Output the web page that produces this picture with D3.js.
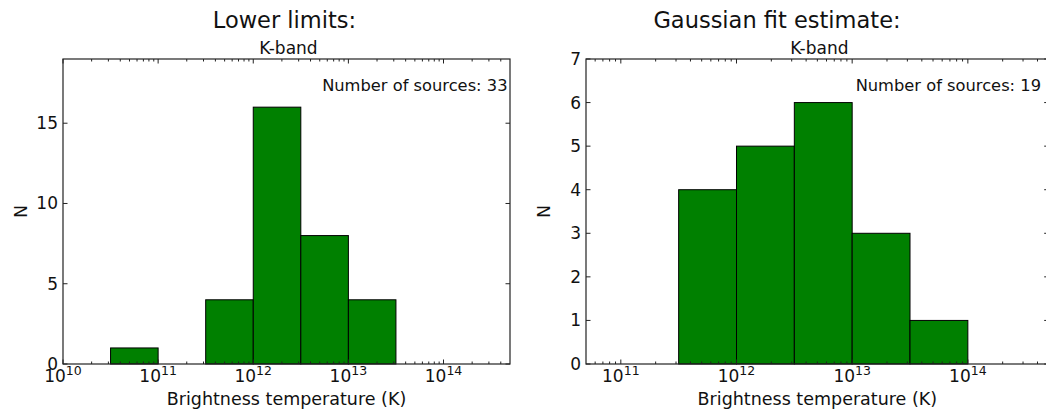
<!DOCTYPE html>
<html>
<head>
<meta charset="utf-8">
<script src="https://cdnjs.cloudflare.com/ajax/libs/d3/7.8.5/d3.min.js"></script>
<style>
  body { margin: 0; background: #fff; }
  svg { display: block; }
  text { font-family: "DejaVu Sans", sans-serif; fill: #111; }
</style>
</head>
<body>
<div id="chart"></div>
<script>
// histogram bin edges (K) and counts
const lowerEdges = [3.162e10, 1e11, 3.162e11, 1e12, 3.162e12, 1e13, 3.162e13];
const lowerCounts = [1, 0, 4, 16, 8, 4];

const gaussEdges = [3.162e11, 1e12, 3.162e12, 1e13, 3.162e13, 1e14];
const gaussCounts = [4, 5, 6, 3, 1];

// tick values
const lowerXTicks = [1e10, 1e11, 1e12, 1e13, 1e14];
const lowerYTicks = [0, 5, 10, 15];
const gaussXTicks = [1e11, 1e12, 1e13, 1e14];
const gaussYTicks = [0, 1, 2, 3, 4, 5, 6, 7];

const width = 1046;
const height = 412;

const svg = d3.select("#chart")
  .append("svg")
  .attr("width", width)
  .attr("height", height);

// Function to draw one histogram panel
function drawPanel(p) {
  const x = d3.scaleLog().domain(p.xDomain).range([p.x0, p.x1]);
  const y = d3.scaleLinear().domain([0, p.yMax]).range([p.y1, p.y0]);

  const g = svg.append("g");

  // bars
  const bins = p.counts.map((c, i) => ({ lo: p.edges[i], hi: p.edges[i + 1], n: c }))
    .filter(d => d.n > 0);

  g.selectAll("rect.bar")
    .data(bins)
    .enter()
    .append("rect")
    .attr("class", "bar")
    .attr("x", d => x(d.lo))
    .attr("y", d => y(d.n))
    .attr("width", d => x(d.hi) - x(d.lo))
    .attr("height", d => y(0) - y(d.n))
    .attr("fill", "#008000")
    .attr("stroke", "#000")
    .attr("stroke-width", 1);

  // minor ticks on the log axis (2..9 x 10^k)
  const minor = [];
  const k0 = Math.floor(Math.log10(p.xDomain[0]));
  const k1 = Math.ceil(Math.log10(p.xDomain[1]));
  for (let k = k0; k <= k1; k++) {
    for (let m = 2; m <= 9; m++) {
      const v = m * Math.pow(10, k);
      if (v > p.xDomain[0] && v < p.xDomain[1]) minor.push(v);
    }
  }

  const tickColor = "#222";

  // x ticks, bottom and top, pointing inward
  [[p.y1, -1], [p.y0, 1]].forEach(([yy, dir]) => {
    g.selectAll(null).data(minor).enter().append("line")
      .attr("x1", d => x(d)).attr("x2", d => x(d))
      .attr("y1", yy).attr("y2", yy + dir * 2.5)
      .attr("stroke", tickColor).attr("stroke-width", 1);
    g.selectAll(null).data(p.xTicks).enter().append("line")
      .attr("x1", d => x(d)).attr("x2", d => x(d))
      .attr("y1", yy).attr("y2", yy + dir * 4.5)
      .attr("stroke", tickColor).attr("stroke-width", 1);
  });

  // y ticks, left and right, pointing inward
  [[p.x0, 1], [p.x1, -1]].forEach(([xx, dir]) => {
    g.selectAll(null).data(p.yTicks).enter().append("line")
      .attr("x1", xx).attr("x2", xx + dir * 4.5)
      .attr("y1", d => y(d)).attr("y2", d => y(d))
      .attr("stroke", tickColor).attr("stroke-width", 1);
  });

  // frame
  g.append("rect")
    .attr("x", p.x0).attr("y", p.y0)
    .attr("width", p.x1 - p.x0).attr("height", p.y1 - p.y0)
    .attr("fill", "none")
    .attr("stroke", "#222")
    .attr("stroke-width", 1.2);

  // y tick labels
  g.selectAll(null).data(p.yTicks).enter().append("text")
    .attr("x", p.x0 - 5)
    .attr("y", d => y(d) + 6)
    .attr("text-anchor", "end")
    .attr("font-size", 17)
    .text(d => d);

  // x tick labels as 10^k
  const xl = g.selectAll(null).data(p.xTicks).enter().append("text")
    .attr("x", d => x(d))
    .attr("y", p.y1 + 18)
    .attr("text-anchor", "middle")
    .attr("font-size", 17);
  xl.append("tspan").text("10");
  xl.append("tspan")
    .attr("dy", -7)
    .attr("font-size", 12.5)
    .text(d => Math.round(Math.log10(d)));

  // axis labels
  g.append("text")
    .attr("x", (p.x0 + p.x1) / 2)
    .attr("y", 405)
    .attr("text-anchor", "middle")
    .attr("font-size", 17.5)
    .text("Brightness temperature (K)");

  g.append("text")
    .attr("transform", `translate(${p.x0 - 36},${(p.y0 + p.y1) / 2}) rotate(-90)`)
    .attr("text-anchor", "middle")
    .attr("font-size", 17.5)
    .text("N");

  // subtitle and title
  g.append("text")
    .attr("x", (p.x0 + p.x1) / 2 + 2)
    .attr("y", 54)
    .attr("text-anchor", "middle")
    .attr("font-size", 17)
    .text("K-band");

  g.append("text")
    .attr("x", p.titleX)
    .attr("y", 28)
    .attr("text-anchor", "middle")
    .attr("font-family", "Lato, sans-serif")
    .attr("font-size", 22.5)
    .text(p.title);

  // annotation
  g.append("text")
    .attr("x", p.noteX)
    .attr("y", 90.5)
    .attr("text-anchor", "end")
    .attr("font-size", 16.3)
    .text(p.note);
}

drawPanel({
  x0: 63, x1: 510, y0: 59, y1: 364,
  xDomain: [1e10, 5e14], yMax: 19,
  xTicks: lowerXTicks, yTicks: lowerYTicks,
  edges: lowerEdges, counts: lowerCounts,
  title: "Lower limits:", titleX: 284.5,
  note: "Number of sources: 33", noteX: 507.5
});

drawPanel({
  x0: 586, x1: 1048.7, y0: 59, y1: 364,
  xDomain: [5e10, 5e14], yMax: 7,
  xTicks: gaussXTicks, yTicks: gaussYTicks,
  edges: gaussEdges, counts: gaussCounts,
  title: "Gaussian fit estimate:", titleX: 777,
  note: "Number of sources: 19", noteX: 1041
});
</script>
</body>
</html>
